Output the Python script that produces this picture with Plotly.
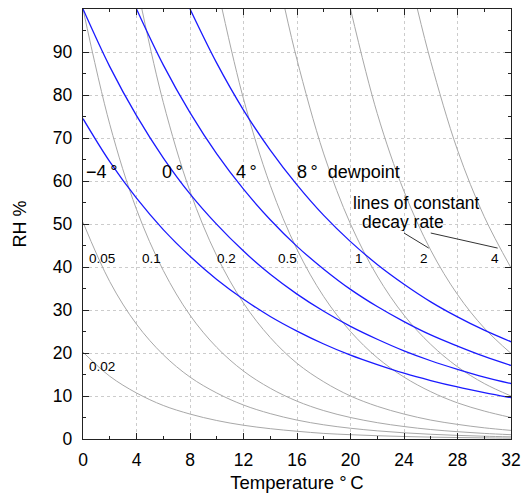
import plotly.graph_objects as go

# Dewpoint curves: relative humidity (%) against air temperature (°C)
dew_temps_m4 = [0, 2, 4, 6, 8, 10, 12, 14, 16, 18, 20, 22, 24, 26, 28, 30, 32]
dew_rh_m4 = [74.5, 64.5, 56.0, 48.7, 42.5, 37.1, 32.5, 28.5, 25.1, 22.1, 19.5, 17.3, 15.3, 13.6, 12.1, 10.8, 9.6]

dew_temps_0 = [0, 2, 4, 6, 8, 10, 12, 14, 16, 18, 20, 22, 24, 26, 28, 30, 32]
dew_rh_0 = [100, 86.6, 75.2, 65.4, 57.0, 49.9, 43.7, 38.3, 33.7, 29.7, 26.2, 23.2, 20.5, 18.2, 16.2, 14.4, 12.9]

dew_temps_4 = [4, 6, 8, 10, 12, 14, 16, 18, 20, 22, 24, 26, 28, 30, 32]
dew_rh_4 = [100, 87.0, 75.9, 66.3, 58.1, 51.0, 44.8, 39.5, 34.8, 30.8, 27.3, 24.2, 21.6, 19.2, 17.1]

dew_temps_8 = [8, 10, 12, 14, 16, 18, 20, 22, 24, 26, 28, 30, 32]
dew_rh_8 = [100, 87.4, 76.5, 67.2, 59.1, 52.0, 45.9, 40.6, 36.0, 31.9, 28.4, 25.3, 22.6]

# Lines of constant decay rate
rate_temps_002 = [0, 2, 4, 6, 8, 10, 12, 14, 16, 18, 20, 22, 24, 26, 28, 30, 32]
rate_rh_002 = [20.2, 14.6, 10.7, 7.8, 5.8, 4.3, 3.2, 2.4, 1.8, 1.3, 1.0, 0.76, 0.58, 0.44, 0.34, 0.26, 0.20]

rate_temps_005 = [0, 2, 4, 6, 8, 10, 12, 14, 16, 18, 20, 22, 24, 26, 28, 30, 32]
rate_rh_005 = [50.4, 36.6, 26.7, 19.6, 14.4, 10.7, 7.9, 5.9, 4.4, 3.3, 2.5, 1.9, 1.44, 1.1, 0.84, 0.65, 0.50]

rate_temps_01 = [0, 2, 4, 6, 8, 10, 12, 14, 16, 18, 20, 22, 24, 26, 28, 30, 32]
rate_rh_01 = [100, 73.2, 53.4, 39.2, 28.8, 21.3, 15.8, 11.8, 8.8, 6.6, 5.0, 3.8, 2.9, 2.2, 1.7, 1.3, 1.0]

rate_temps_02 = [4.4, 6, 8, 10, 12, 14, 16, 18, 20, 22, 24, 26, 28, 30, 32]
rate_rh_02 = [100, 78.3, 57.6, 42.6, 31.6, 23.6, 17.6, 13.3, 10.0, 7.6, 5.8, 4.4, 3.4, 2.6, 2.0]

rate_temps_05 = [10.4, 12, 14, 16, 18, 20, 22, 24, 26, 28, 30, 32]
rate_rh_05 = [100, 79.1, 59.0, 44.1, 33.1, 25.0, 18.9, 14.4, 11.0, 8.4, 6.5, 5.0]

rate_temps_1 = [15.1, 16, 18, 20, 22, 24, 26, 28, 30, 32]
rate_rh_1 = [100, 88.2, 66.3, 50.0, 37.9, 28.8, 22.0, 16.8, 12.9, 10.0]

rate_temps_2 = [20, 22, 24, 26, 28, 30, 32]
rate_rh_2 = [100, 75.7, 57.6, 43.9, 33.6, 25.8, 19.9]

rate_temps_4 = [25, 26, 28, 30, 32]
rate_rh_4 = [100, 87.8, 67.2, 51.7, 39.8]

# Curve labels
dew_labels = ["\u22124\u2009\u00b0", "0\u2009\u00b0", "4\u2009\u00b0", "8\u2009\u00b0  dewpoint"]
dew_label_x = [1.37, 6.7, 12.2, 15.85]
dew_label_y = [62, 62, 62, 62]

rate_labels = ["0.02", "0.05", "0.1", "0.2", "0.5", "1", "2", "4"]
rate_label_x = [1.45, 1.45, 5.1, 10.7, 15.3, 20.6, 25.5, 30.8]
rate_label_y = [16.9, 41.9, 41.9, 41.9, 41.9, 41.9, 41.9, 41.9]

x_ticks = [0, 4, 8, 12, 16, 20, 24, 28, 32]
y_ticks = [0, 10, 20, 30, 40, 50, 60, 70, 80, 90]

FONT = "Liberation Sans, Arial, Helvetica, sans-serif"
BLUE = "#1a1aff"
GRAY = "#a8a8a8"

fig = go.Figure()

rate_curves = [
    (rate_temps_002, rate_rh_002), (rate_temps_005, rate_rh_005),
    (rate_temps_01, rate_rh_01), (rate_temps_02, rate_rh_02),
    (rate_temps_05, rate_rh_05), (rate_temps_1, rate_rh_1),
    (rate_temps_2, rate_rh_2), (rate_temps_4, rate_rh_4),
]
for xs, ys in rate_curves:
    fig.add_trace(go.Scatter(x=xs, y=ys, mode="lines",
                             line=dict(color=GRAY, width=1, shape="spline", smoothing=1),
                             hoverinfo="skip", showlegend=False))

dew_curves = [
    (dew_temps_m4, dew_rh_m4), (dew_temps_0, dew_rh_0),
    (dew_temps_4, dew_rh_4), (dew_temps_8, dew_rh_8),
]
for xs, ys in dew_curves:
    fig.add_trace(go.Scatter(x=xs, y=ys, mode="lines",
                             line=dict(color=BLUE, width=1.3, shape="spline", smoothing=1),
                             hoverinfo="skip", showlegend=False))

annotations = []
for txt, x, y in zip(dew_labels, dew_label_x, dew_label_y):
    annotations.append(dict(x=x, y=y, text=txt, showarrow=False,
                            xanchor="left" if "dewpoint" in txt else "center",
                            font=dict(family=FONT, size=18, color="black")))
for txt, x, y in zip(rate_labels, rate_label_x, rate_label_y):
    annotations.append(dict(x=x, y=y, text=txt, showarrow=False,
                            font=dict(family=FONT, size=13.5, color="black")))
# Two-line note, kept as two compact text boxes
annotations.append(dict(x=24.9, y=54.9, text="lines of constant", showarrow=False, height=19,
                        font=dict(family=FONT, size=17.5, color="black")))
annotations.append(dict(x=23.9, y=50.5, text="decay rate", showarrow=False, height=19,
                        font=dict(family=FONT, size=17.5, color="black")))

# Pointer lines from the note to the "2" and "4" rate curves
pointers = [((24.0, 47.9), (25.85, 44.4)), ((26.0, 47.9), (31.0, 44.4))]
shapes = []
for (x0, y0), (x1, y1) in pointers:
    shapes.append(dict(type="line", xref="x", yref="y", x0=x0, y0=y0, x1=x1, y1=y1,
                       line=dict(color="#333333", width=1)))

axis_common = dict(
    showline=True, linecolor="#222222", linewidth=1.4, mirror="allticks",
    ticks="inside", ticklen=6, tickcolor="#222222", tickwidth=1,
    showgrid=True, gridcolor="#cccccc", griddash="dot", gridwidth=1,
    zeroline=False, automargin=False,
    tickfont=dict(family=FONT, size=17.5, color="black"),
)

fig.update_layout(
    width=523, height=496,
    margin=dict(l=83, r=12, t=9, b=57),
    paper_bgcolor="white", plot_bgcolor="white",
    font=dict(family=FONT, size=17, color="black"),
    annotations=annotations, shapes=shapes,
    xaxis=dict(range=[0, 32], tickvals=x_ticks, ticklabelstandoff=5,
               minor=dict(dtick=2, ticks="inside", ticklen=3, tickcolor="#222222", showgrid=False),
               title=dict(text="Temperature \u00b0\u2009C", font=dict(family=FONT, size=18.5), standoff=6),
               **axis_common),
    yaxis=dict(range=[0, 100], tickvals=y_ticks, ticklabelstandoff=6,
               minor=dict(dtick=5, ticks="inside", ticklen=3, tickcolor="#222222", showgrid=False),
               title=dict(text="RH %", font=dict(family=FONT, size=18), standoff=21),
               **axis_common),
)

fig.write_html("out.html")
